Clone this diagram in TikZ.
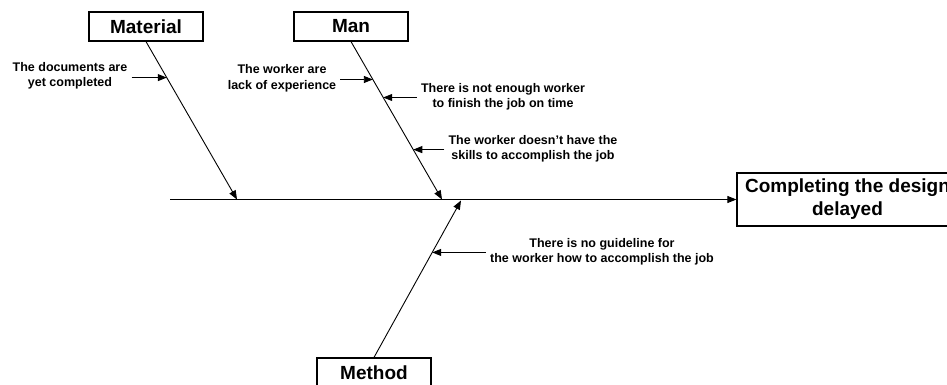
\documentclass[tikz,border=0pt]{standalone}
\usepackage{fontspec}
\setmainfont{Liberation Sans}
\usepackage{tikz}
\usetikzlibrary{arrows.meta,calc}

\begin{document}
\begin{tikzpicture}[
  x=1pt, y=-1pt,
  cat/.style={draw, line width=1.2pt, minimum width=114pt, minimum height=29pt,
    inner sep=0pt, font=\fontsize{19}{22}\selectfont\bfseries},
  effect/.style={draw, line width=1.2pt, minimum width=221pt, minimum height=53pt,
    inner sep=0pt, align=center, font=\fontsize{19}{23}\selectfont\bfseries},
  cause/.style={align=center, inner sep=4pt,
    font=\fontsize{12.5}{15.5}\selectfont\bfseries},
  bone/.style={line width=0.9pt},
  arr/.style={-{Triangle[length=9pt, width=7pt]}, line width=0.9pt}
]
  \useasboundingbox (0,0) rectangle (947,385);
  \clip (0,0) rectangle (947,385);

  % categories and effect
  \node[cat] (mat) at (146,26.5) {Material};
  \node[cat] (man) at (351,26.5) {Man};
  \node[cat] (meth) at (374,372.5) {Method};
  \node[effect] (eff) at (847.5,199.5) {Completing the design\\delayed};

  % spine and bones
  \coordinate (tail) at (170,199.5);
  \coordinate (matend) at (237,199.5);
  \coordinate (manend) at (442,199.5);
  \coordinate (methend) at (461,200.5);
  \draw[arr] (tail) -- (eff.west);
  \draw[arr] (mat.south) -- (matend);
  \draw[arr] (man.south) -- (manend);
  \draw[arr] (meth.north) -- (methend);

  % causes
  \node[cause] (docs) at (70,76) {The documents are\\yet completed};
  \node[cause] (exper) at (282,78.5) {The worker are\\lack of experience};
  \node[cause] (enough) at (503,97) {There is not enough worker\\to finish the job on time};
  \node[cause] (skills) at (533,149) {The worker doesn't have the\\skills to accomplish the job};
  \node[cause] (guide) at (602,252) {There is no guideline for\\the worker how to accomplish the job};

  \coordinate (d1) at ($(mat.south)!0.228!(matend)$);
  \coordinate (d2) at ($(man.south)!0.24!(manend)$);
  \coordinate (d3) at ($(man.south)!0.354!(manend)$);
  \coordinate (d4) at ($(man.south)!0.684!(manend)$);
  \coordinate (d5) at ($(meth.north)!0.669!(methend)$);

  \draw[arr] (d1 -| docs.east) -- (d1);
  \draw[arr] (d2 -| exper.east) -- (d2);
  \draw[arr] (d3 -| enough.west) -- (d3);
  \draw[arr] (d4 -| skills.west) -- (d4);
  \draw[arr] (d5 -| guide.west) -- (d5);
\end{tikzpicture}
\end{document}
